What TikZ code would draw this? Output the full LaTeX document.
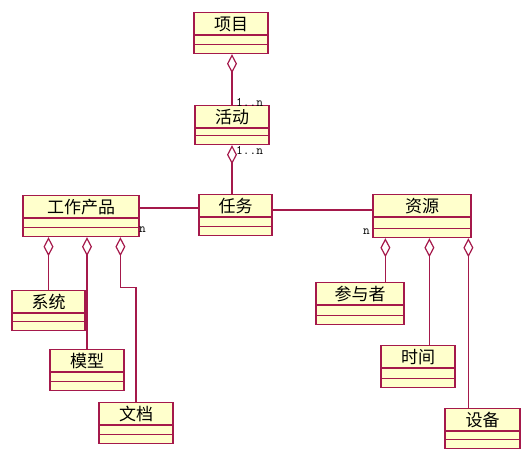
\documentclass[tikz,border=0pt]{standalone}
\usepackage{fontspec}
\usetikzlibrary{calc,arrows.meta}
\newfontfamily\cn{Noto Sans CJK SC}

\definecolor{umlred}{RGB}{165,25,75}
\definecolor{umlfill}{RGB}{255,255,204}

\tikzset{
  classbox/.style={draw=umlred, fill=umlfill, line width=1.2pt, inner sep=0pt},
  classname/.style={font=\cn\fontsize{17}{19}\selectfont, inner sep=0pt},
  classline/.style={draw=umlred, line width=1.2pt},
  assoc/.style={draw=umlred, line width=1.2pt},
  aggr/.style={draw=umlred, line width=1.2pt, -{Diamond[open,length=19pt,width=10pt]}},
  mult/.style={font=\ttfamily\fontsize{13}{15}\selectfont, inner sep=0pt, anchor=base west},
}

% name, center x, top y, width, height, text
\newcommand{\umlclass}[6]{%
  \node[classbox, minimum width=#4pt, minimum height=#5pt, anchor=north] (#1) at (#2,#3) {};
  \node[classname] (#1-t) at ($(#1.north)+(0,12)$) {#6};
  \draw[classline] ($(#1.north west)+(0,23)$) -- ($(#1.north east)+(0,23)$);
  \draw[classline] ($(#1.south west)+(0,-10)$) -- ($(#1.south east)+(0,-10)$);
}

\begin{document}
\begin{tikzpicture}[x=1pt,y=-1pt]
\useasboundingbox (0,0) rectangle (527,460);

\umlclass{xiangmu}{231}{12}{74}{41}{项目}
\umlclass{huodong}{232}{105}{74}{39}{活动}
\umlclass{renwu}{235.5}{194}{73}{41}{任务}
\umlclass{gongzuo}{81}{195}{116}{41}{工作产品}
\umlclass{ziyuan}{422}{194}{98}{43}{资源}

\umlclass{xitong}{48.5}{290}{73}{40}{系统}
\umlclass{moxing}{87}{349}{74}{41}{模型}
\umlclass{wendang}{136}{402}{74}{41}{文档}

\umlclass{canyu}{360}{282}{88}{42}{参与者}
\umlclass{shijian}{418}{345}{74}{42}{时间}
\umlclass{shebei}{482.5}{408}{75}{40}{设备}

\coordinate (wlink) at ($(gongzuo.north)+(0,13)$);
\coordinate (rlink) at ($(renwu.north)+(0,16)$);
\coordinate (bend) at ($(gongzuo.south west)+(98,50)$);
\coordinate (r1) at ($(ziyuan.south west)+(13,0)$);
\coordinate (r2) at ($(ziyuan.south west)+(57,0)$);
\coordinate (r3) at ($(ziyuan.south west)+(96,0)$);

\draw[aggr] (huodong.north) -- (huodong.north |- xiangmu.south);
\draw[aggr] (renwu.north -| huodong.south) -- (huodong.south);

\draw[assoc] (wlink -| gongzuo.east) -- (wlink -| renwu.west);
\draw[assoc] (rlink -| renwu.east) -- (rlink -| ziyuan.west);

\draw[aggr] (xitong.north) -- (xitong.north |- gongzuo.south);
\draw[aggr] (moxing.north) -- (moxing.north |- gongzuo.south);
\draw[aggr] (wendang.north) |- (bend) -- (bend |- gongzuo.south);

\draw[aggr] (canyu.north -| r1) -- (r1);
\draw[aggr] (shijian.north -| r2) -- (r2);
\draw[aggr] (shebei.north -| r3) -- (r3);

\node[mult] (m1) at (236,106) {1..n};
\node[mult] (m2) at (236,154) {1..n};
\node[mult] (n1) at (139,232) {n};
\node[mult] (n2) at (363,234) {n};

\end{tikzpicture}
\end{document}
